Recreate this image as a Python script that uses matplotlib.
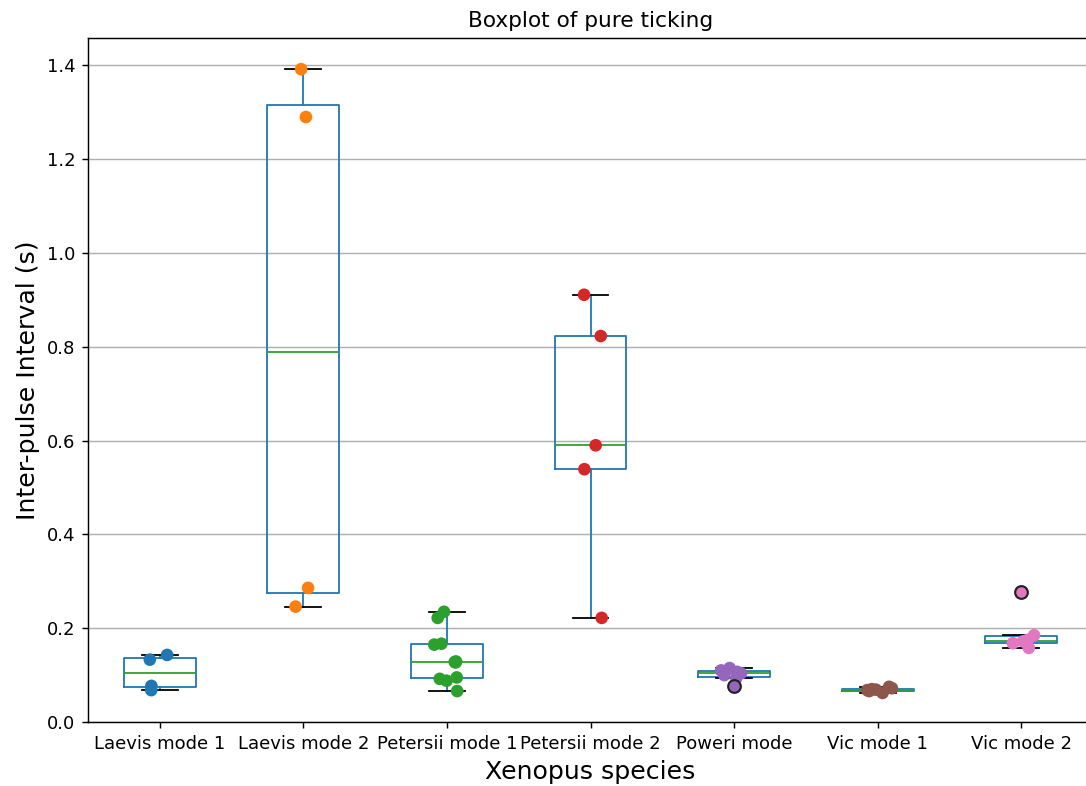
import numpy as np
import pandas as pd
import seaborn as sns
import matplotlib.pyplot as plt

species = ["Laevis mode 1", "Laevis mode 2", "Petersii mode 1", "Petersii mode 2",
           "Poweri mode", "Vic mode 1", "Vic mode 2"]

# inter-pulse intervals (s) per call type
laevis_1 = [0.068, 0.077, 0.133, 0.143]
laevis_2 = [0.246, 0.286, 1.290, 1.392]
petersii_1 = [0.066, 0.088, 0.092, 0.095, 0.127, 0.128, 0.129, 0.165, 0.167, 0.222, 0.235]
petersii_2 = [0.222, 0.539, 0.590, 0.823, 0.911]
poweri = [0.077, 0.094, 0.100, 0.104, 0.107, 0.110, 0.115]
vic_1 = [0.062, 0.066, 0.068, 0.069, 0.070, 0.072, 0.075]
vic_2 = [0.158, 0.168, 0.172, 0.175, 0.185, 0.278]

groups = [laevis_1, laevis_2, petersii_1, petersii_2, poweri, vic_1, vic_2]

df = pd.DataFrame({
    "species": np.repeat(species, [len(g) for g in groups]),
    "ipi": np.concatenate(groups),
})

# fixed seed so the strip jitter is reproducible
np.random.seed(86)

dpi = 130
fig = plt.figure(figsize=(1086 / dpi, 786 / dpi), dpi=dpi)
ax = fig.add_axes([88 / 1086, 64 / 786, 1005 / 1086, 684 / 786])

# same colours pandas uses for its boxplot
ax.boxplot(groups, positions=range(len(groups)), widths=0.5,
           boxprops=dict(color="#1f77b4"),
           whiskerprops=dict(color="#1f77b4"),
           medianprops=dict(color="#2ca02c"),
           capprops=dict(color="k"),
           flierprops=dict(marker="o", markeredgecolor="#222222", markersize=7,
                           markeredgewidth=1.2, zorder=4))
ax.yaxis.grid(True)

sns.stripplot(data=df, x="species", y="ipi", hue="species", palette="tab10",
              size=7, jitter=0.1, legend=False, ax=ax)

ax.set_xlim(-0.5, len(groups) - 0.5)
ax.set_ylim(0, None)
ax.set_xticks(range(len(species)))
ax.set_xticklabels(species)
ax.set_title("Boxplot of pure ticking")
ax.set_xlabel("Xenopus species", fontsize=14)
ax.set_ylabel("Inter-pulse Interval (s)", fontsize=14)

fig.savefig("out.png", dpi=dpi)
